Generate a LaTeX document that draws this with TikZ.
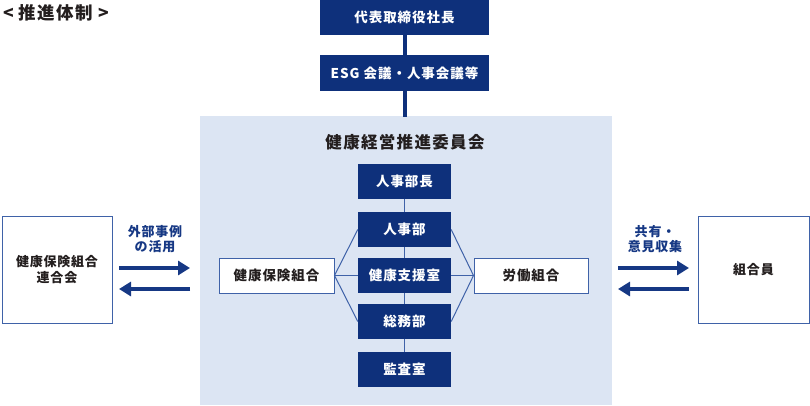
\documentclass[tikz,border=0pt]{standalone}
\usepackage{fontspec}
\setmainfont{Noto Sans CJK JP}
\usetikzlibrary{arrows.meta}
\definecolor{navy}{RGB}{14,48,123}
\definecolor{arrowc}{RGB}{22,56,132}
\definecolor{panel}{RGB}{220,229,243}
\definecolor{edge}{RGB}{63,98,168}
\definecolor{txt}{RGB}{35,30,30}
\newcommand{\lspc}[1]{\addfontfeature{LetterSpace=#1}}
\tikzset{
  darkbox/.style={draw=none,fill=navy,text=white,font=\bfseries\fontsize{13.5}{15}\selectfont\lspc{7},inner sep=0pt,minimum width=93pt,minimum height=35pt},
  topbox/.style={darkbox,minimum width=169pt},
  whitebox/.style={draw=edge,line width=1pt,fill=white,text=txt,font=\bfseries\fontsize{13.5}{15}\selectfont\lspc{7},inner sep=0pt,minimum height=35pt},
  outerbox/.style={draw=edge,line width=1pt,fill=white,text=txt,font=\bfseries\fontsize{13}{16}\selectfont\lspc{6},inner sep=0pt,align=center},
  thin/.style={draw=edge,line width=1pt},
  thick/.style={draw=navy,line width=4pt},
  bigarrow/.style={draw=arrowc,line width=4.5pt,-{Triangle[length=12pt,width=14pt]}},
  lbl/.style={text=arrowc,font=\bfseries\fontsize{13}{15}\selectfont\lspc{6},align=center,inner sep=0pt}
}
\begin{document}
\begin{tikzpicture}[x=1pt,y=-1pt]
\useasboundingbox (0,0) rectangle (810,405);
\fill[panel] (200,116) rectangle (612,405);
\node[anchor=west,text=txt,font=\bfseries\fontsize{17.5}{19}\selectfont\lspc{8},inner sep=0pt] (head) at (3,13) {<\hspace{5pt}推進体制\hspace{5pt}>};
\node[topbox] (ceo) at (404.5,17.5) {代表取締役社長};
\node[topbox,minimum height=36pt] (esg) at (404.5,73) {ESG 会議・人事会議等};
\coordinate (ptop) at (404.5,117);
\draw[thick] (ceo.south) -- (esg.north);
\draw[thick] (esg.south) -- (ptop);
\node[text=txt,font=\bfseries\fontsize{16.5}{18}\selectfont\lspc{8},inner sep=0pt] (title) at (405,142) {健康経営推進委員会};
\node[darkbox] (hrh) at (404.5,181.5) {人事部長};
\node[darkbox] (hr) at (404.5,229.5) {人事部};
\node[darkbox] (hs) at (404.5,275.5) {健康支援室};
\node[darkbox] (ga) at (404.5,321.5) {総務部};
\node[darkbox] (au) at (404.5,369.5) {監査室};
\node[whitebox,minimum width=115pt] (kk) at (276.5,275.5) {健康保険組合};
\node[whitebox,minimum width=114pt] (rk) at (531,275.5) {労働組合};
\draw[thin] (hrh) -- (hr);
\draw[thin] (hr) -- (hs);
\draw[thin] (hs) -- (ga);
\draw[thin] (ga) -- (au);
\draw[thin] (hr.west) -- (kk.east) -- (ga.west);
\draw[thin] (kk.east) -- (hs.west);
\draw[thin] (hr.east) -- (rk.west) -- (ga.east);
\draw[thin] (rk.west) -- (hs.east);
\node[outerbox,minimum width=110pt,minimum height=107pt] (ren) at (57,269.5) {健康保険組合\\連合会};
\node[outerbox,minimum width=111pt,minimum height=107pt] (mem) at (753.5,269.5) {組合員};
\coordinate (la1) at (119,268);
\coordinate (la2) at (190,268);
\coordinate (lb1) at (190,289);
\coordinate (lb2) at (119,289);
\draw[bigarrow] (la1) -- (la2);
\draw[bigarrow] (lb1) -- (lb2);
\node[lbl] (l1) at (155,239) {外部事例\\の活用};
\coordinate (ra1) at (618,268);
\coordinate (ra2) at (689,268);
\coordinate (rb1) at (689,289);
\coordinate (rb2) at (618,289);
\draw[bigarrow] (ra1) -- (ra2);
\draw[bigarrow] (rb1) -- (rb2);
\node[lbl] (l2) at (655,239) {共有・\\意見収集};
\end{tikzpicture}
\end{document}
